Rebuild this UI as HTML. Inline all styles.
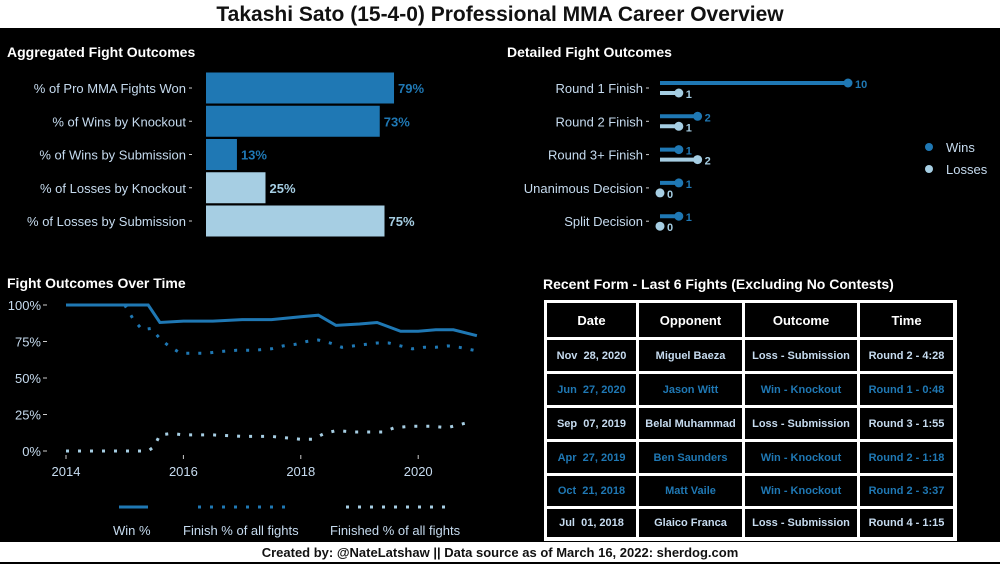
<!DOCTYPE html>
<html><head><meta charset="utf-8">
<style>
body{margin:0;width:1000px;height:562px;overflow:hidden;background:#000;font-family:"Liberation Sans",sans-serif;position:relative}
.t{position:absolute;left:0;top:0;width:1000px;height:28px;background:#fff;text-align:center;font-weight:bold;font-size:21px;line-height:30px;color:#111}
.f{position:absolute;left:0;top:542px;width:1000px;height:20px;background:#fff;text-align:center;font-weight:bold;font-size:13px;line-height:22px;color:#111}
svg{position:absolute;left:0;top:0}
#tbl{position:absolute;left:544px;top:300px;width:413px;height:241px;background:#fff}
.c{position:absolute;background:#000;display:flex;align-items:center;justify-content:center;font-weight:bold;font-size:11px;white-space:nowrap}
.h{color:#fff;font-size:13px}
.w{color:#1f78b4}.l{color:#c6dbef}
</style></head><body>
<div class="t">Takashi Sato (15-4-0) Professional MMA Career Overview</div>
<svg width="1000" height="562" id="s">
<text x="7" y="57" fill="#fff" font-weight="bold" font-size="14">Aggregated Fight Outcomes</text>
<text x="507" y="57" fill="#fff" font-weight="bold" font-size="14">Detailed Fight Outcomes</text>
<text x="7" y="288" fill="#fff" font-weight="bold" font-size="14">Fight Outcomes Over Time</text>
<text x="543" y="289" fill="#fff" font-weight="bold" font-size="14">Recent Form - Last 6 Fights (Excluding No Contests)</text>
<g id="bars"></g><g id="lol"></g><g id="time"></g>
<circle cx="929" cy="147" r="4" fill="#1f78b4"/>
<text x="946" y="152" fill="#c6dbef" font-size="13">Wins</text>
<circle cx="929" cy="169" r="4" fill="#a6cee3"/>
<text x="946" y="174" fill="#c6dbef" font-size="13">Losses</text>
<line x1="119" y1="507" x2="148" y2="507" stroke="#1f78b4" stroke-width="3"/>
<line x1="198" y1="507" x2="285" y2="507" stroke="#1f78b4" stroke-width="3" stroke-dasharray="3,9"/>
<line x1="346" y1="507" x2="446" y2="507" stroke="#a6cee3" stroke-width="3" stroke-dasharray="3,9"/>
<text x="113" y="535" fill="#c6dbef" font-size="13">Win %</text>
<text x="183" y="535" fill="#c6dbef" font-size="13">Finish % of all fights</text>
<text x="330" y="535" fill="#c6dbef" font-size="13">Finished % of all fights</text>
</svg>
<div id="tbl"></div>
<div class="f">Created by: @NateLatshaw || Data source as of March 16, 2022: sherdog.com</div>
<script>
const barLabels=["% of Pro MMA Fights Won","% of Wins by Knockout","% of Wins by Submission","% of Losses by Knockout","% of Losses by Submission"];
const barValues=[79,73,13,25,75];
const barIsWin=[1,1,1,0,0];
const lolCats=["Round 1 Finish","Round 2 Finish","Round 3+ Finish","Unanimous Decision","Split Decision"];
const lolWins=[10,2,1,1,1];
const lolLosses=[1,1,2,0,0];
const winYears=[2014,2015.4,2015.6,2016,2016.5,2017,2017.5,2018,2018.3,2018.6,2019,2019.3,2019.7,2020,2020.3,2020.6,2021];
const winVals=[100,100,88,89,89,90,90,92,93,86,87,88,82,82,83,83,79];
const finYears=[2015,2015.15,2015.3,2015.45,2015.6,2015.75,2015.95,2016.2,2016.4,2016.6,2016.9,2017.2,2017.5,2017.7,2017.9,2018.1,2018.3,2018.5,2018.7,2018.9,2019.1,2019.3,2019.5,2019.7,2019.9,2020.1,2020.3,2020.5,2020.7,2020.95];
const finVals=[100,90,83,84,77,72,67,67,67,68,69,69,70,72,73,75,76,74,71,72,73,74,74,72,70,71,71,72,71,69];
const fdYears=[2014,2014.5,2015,2015.4,2015.5,2015.6,2015.8,2016,2016.5,2017,2017.5,2018,2018.2,2018.4,2018.6,2018.9,2019.2,2019.4,2019.6,2019.9,2020.2,2020.5,2020.9];
const fdVals=[0,0,0,0,3,11,12,11,11,10,10,8,8,12,14,13,13,13,16,17,17,16,20];
const yTicks=[0,25,50,75,100];
const xTicks=[2014,2016,2018,2020];
const tblHead=["Date","Opponent","Outcome","Time"];
const tblRows=[["Nov  28, 2020","Miguel Baeza","Loss - Submission","Round 2 - 4:28","l"],["Jun  27, 2020","Jason Witt","Win - Knockout","Round 1 - 0:48","w"],["Sep  07, 2019","Belal Muhammad","Loss - Submission","Round 3 - 1:55","l"],["Apr  27, 2019","Ben Saunders","Win - Knockout","Round 2 - 1:18","w"],["Oct  21, 2018","Matt Vaile","Win - Knockout","Round 2 - 3:37","w"],["Jul  01, 2018","Glaico Franca","Loss - Submission","Round 4 - 1:15","l"]];
const NS="http://www.w3.org/2000/svg";
function mk(p,tag,a,txt){const e=document.createElementNS(NS,tag);for(const k in a)e.setAttribute(k,a[k]);if(txt!==undefined)e.textContent=txt;p.appendChild(e);return e;}
// table
const colX=[2,94,200,315,411], rowY=[2,39,73,107,141,175,208,239];
const tb=document.getElementById('tbl');
function cell(r,c,txt,cls){const d=document.createElement('div');d.className='c '+cls;
 d.style.left=colX[c]+1+'px';d.style.width=(colX[c+1]-colX[c]-3)+'px';d.style.top=rowY[r]+1+'px';d.style.height=(rowY[r+1]-rowY[r]-3)+'px';
 d.textContent=txt;d.style.whiteSpace='pre';
 
 
 tb.appendChild(d);}
tblHead.forEach((h,c)=>cell(0,c,h,'h'));
tblRows.forEach((row,r)=>{for(let c=0;c<4;c++)cell(r+1,c,row[c],row[4]);});
// bars
const bx=v=>206+v*2.38, by=i=>88+i*33.25;
const gb=document.getElementById('bars');
barValues.forEach((v,i)=>{
 const c=barIsWin[i]?"#1f78b4":"#a6cee3";
 let r=mk(gb,'rect',{x:206,y:by(i)-15.5,width:bx(v)-206,height:31,fill:c});
 
 let t=mk(gb,'text',{x:bx(v)+4,y:by(i)+5,fill:c,'font-weight':'bold','font-size':13},v+'%');
 
 let l=mk(gb,'text',{x:186,y:by(i)+5,fill:'#c6dbef','font-size':13,'text-anchor':'end'},barLabels[i]);
 
 mk(gb,'line',{x1:189,x2:192,y1:by(i),y2:by(i),stroke:'#ccc'});
});
// lollipops
const lx=v=>660+v*18.8, ly=i=>88+i*33.3;
const gl=document.getElementById('lol');
lolCats.forEach((c,i)=>{
 let l=mk(gl,'text',{x:643,y:ly(i)+5,fill:'#c6dbef','font-size':13,'text-anchor':'end'},c);
 
 mk(gl,'line',{x1:646,x2:649,y1:ly(i),y2:ly(i),stroke:'#ccc'});
 [[lolWins[i],-5,'#1f78b4'],[lolLosses[i],5,'#a6cee3']].forEach(([v,o,col])=>{
  const y=ly(i)+o;
  mk(gl,'line',{x1:660,x2:lx(v),y1:y,y2:y,stroke:col,'stroke-width':4});
  let d=mk(gl,'circle',{cx:lx(v),cy:y,r:4.5,fill:col});
  
  mk(gl,'text',{x:lx(v)+7,y:y+5,fill:col,'font-weight':'bold','font-size':11},v);
 });
});
// time
const tx=yr=>66+(yr-2014)*58.7, ty=v=>451-v*1.46;
const gt=document.getElementById('time');
yTicks.forEach(v=>{let t=mk(gt,'text',{x:41,y:ty(v)+5,fill:'#c6dbef','font-size':13,'text-anchor':'end'},v+'%');
 
 mk(gt,'line',{x1:43,x2:47,y1:ty(v),y2:ty(v),stroke:'#ccc'});});
xTicks.forEach(v=>{let t=mk(gt,'text',{x:tx(v),y:476,fill:'#c6dbef','font-size':13,'text-anchor':'middle'},v);
 
 mk(gt,'line',{x1:tx(v),x2:tx(v),y1:455,y2:459,stroke:'#ccc'});});
function path(xs,ys){return xs.map((x,i)=>(i?'L':'M')+tx(x).toFixed(1)+','+ty(ys[i]).toFixed(1)).join('');}
let p1=mk(gt,'path',{d:path(fdYears,fdVals),fill:'none',stroke:'#a6cee3','stroke-width':3,'stroke-dasharray':'3,9'});

let p2=mk(gt,'path',{d:path(finYears,finVals),fill:'none',stroke:'#1f78b4','stroke-width':3,'stroke-dasharray':'3,9'});

let p3=mk(gt,'path',{d:path(winYears,winVals),fill:'none',stroke:'#1f78b4','stroke-width':3});

</script>
</body></html>
